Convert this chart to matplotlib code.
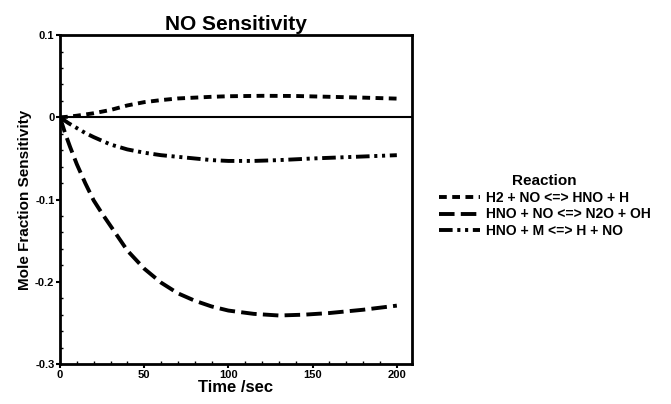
import matplotlib
matplotlib.use("Agg")
import matplotlib.pyplot as plt
from matplotlib.ticker import MultipleLocator

# values
t_h2 = [0, 5, 10, 20, 30, 40, 50, 60, 70, 80, 90, 100, 120, 140, 160, 180, 200]
s_h2 = [0, 0.0008, 0.002, 0.005, 0.009, 0.0145, 0.0185, 0.021, 0.023, 0.024, 0.025,
        0.0257, 0.0262, 0.026, 0.025, 0.024, 0.0228]

t_n2o = [0, 3, 6, 10, 15, 20, 25, 30, 40, 50, 60, 70, 80, 90, 100, 115, 130, 145, 160, 180, 200]
s_n2o = [0, -0.019, -0.036, -0.057, -0.080, -0.101, -0.117, -0.132, -0.162, -0.184, -0.201,
         -0.214, -0.223, -0.230, -0.235, -0.239, -0.241, -0.240, -0.238, -0.234, -0.229]

t_m = [0, 5, 10, 15, 20, 30, 40, 50, 60, 70, 80, 90, 100, 115, 130, 150, 175, 200]
s_m = [0, -0.007, -0.013, -0.019, -0.024, -0.033, -0.039, -0.043, -0.046, -0.048, -0.050,
       -0.052, -0.053, -0.053, -0.052, -0.050, -0.048, -0.046]

labels = ["H2 + NO <=> HNO + H", "HNO + NO <=> N2O + OH", "HNO + M <=> H + NO"]

plt.rcParams["font.family"] = ["Liberation Sans", "DejaVu Sans"]
plt.rcParams["font.weight"] = "bold"

fig = plt.figure(figsize=(6.71, 4.04), dpi=100)
ax = fig.add_axes([0.0894, 0.099, 0.5246, 0.814])

lw = 2.8
ax.plot(t_h2, s_h2, color="black", lw=lw, linestyle=(0, (2.0, 1.4)), label=labels[0])
ax.plot(t_n2o, s_n2o, color="black", lw=lw, linestyle=(0, (4.0, 1.6)), label=labels[1])
ax.plot(t_m, s_m, color="black", lw=lw, linestyle=(0, (3.5, 1.2, 0.8, 1.2, 0.8, 1.2)), label=labels[2])
ax.axhline(0, color="black", lw=1.5)

ax.set_xlim(0, 209)
ax.set_ylim(-0.3, 0.1)
ax.set_xticks([0, 50, 100, 150, 200])
ax.set_yticks([-0.3, -0.2, -0.1, 0, 0.1])
ax.set_yticklabels(["-0.3", "-0.2", "-0.1", "0", "0.1"])
ax.xaxis.set_minor_locator(MultipleLocator(10))
ax.yaxis.set_minor_locator(MultipleLocator(0.02))
ax.tick_params(which="major", direction="out", length=3, width=1.5, labelsize=8, pad=1)
ax.tick_params(which="minor", direction="in", length=2, width=1)
for sp in ax.spines.values():
    sp.set_linewidth(2)

ax.set_title("NO Sensitivity", fontsize=15, fontweight="bold", pad=4)
ax.set_xlabel("Time /sec", fontsize=12, fontweight="bold", labelpad=0)
ax.set_ylabel("Mole Fraction Sensitivity", fontsize=11, fontweight="bold", labelpad=2)

leg = ax.legend(loc="center left", bbox_to_anchor=(0.635, 0.49), bbox_transform=fig.transFigure,
                frameon=False, title="Reaction", fontsize=10, handlelength=3.0,
                handletextpad=0.4, labelspacing=0.2)
leg.get_title().set_fontweight("bold")
leg.get_title().set_fontsize(11)

fig.savefig("out.png", dpi=100)
